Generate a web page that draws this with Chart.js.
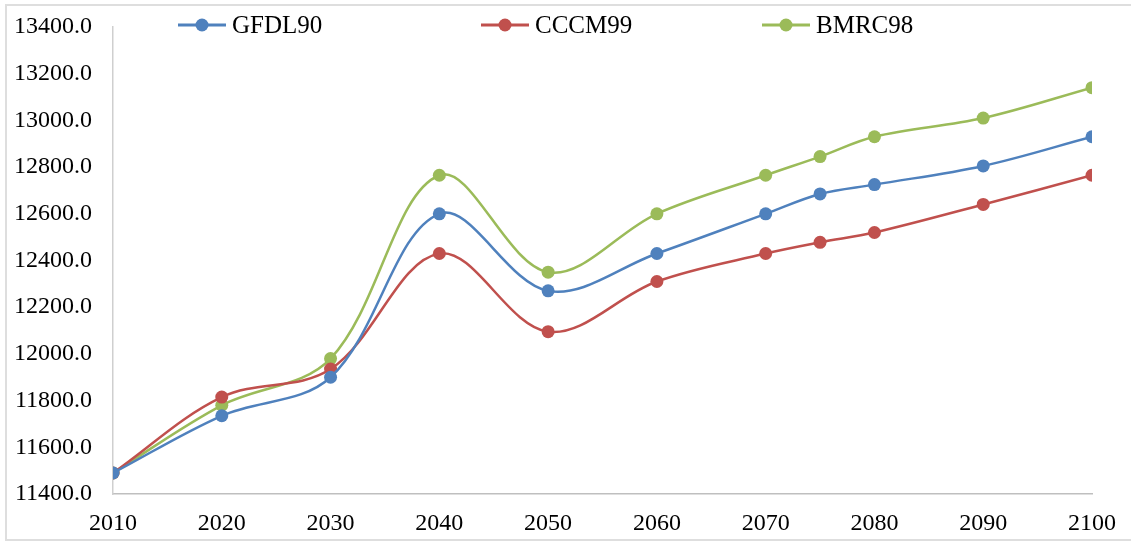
<!DOCTYPE html>
<html>
<head>
<meta charset="utf-8">
<script src="https://cdn.jsdelivr.net/npm/chart.js@4.4.1/dist/chart.umd.min.js"></script>
<style>
  body { margin: 0; background: #fff; }
  canvas { display: block; }
</style>
</head>
<body>
<canvas id="grafico" width="1131" height="542"></canvas>
<script>
// data
const years = [2010, 2020, 2030, 2040, 2050, 2060, 2070, 2075, 2080, 2090, 2100];
const gfdl90 = [11490, 11735, 11900, 12600, 12270, 12430, 12600, 12685, 12725, 12805, 12930];
const cccm99 = [11490, 11815, 11935, 12430, 12095, 12310, 12430, 12478, 12520, 12640, 12765];
const bmrc98 = [11490, 11780, 11980, 12765, 12350, 12600, 12765, 12845, 12930, 13010, 13140];

const seriesNames = ['GFDL90', 'CCCM99', 'BMRC98'];
const seriesColors = ['#4F81BD', '#C0504D', '#9BBB59'];

const fontFamily = '"Liberation Serif", "Times New Roman", serif';

function toPoints(values) {
    return years.map((y, i) => ({ x: y, y: values[i] }));
}

// legend drawn like the Excel one: line with a dot, then the name
const excelLegend = {
    id: 'excelLegend',
    afterDraw(chart) {
        const ctx = chart.ctx;
        const starts = [178, 481, 762];
        ctx.save();
        chart.data.datasets.forEach((ds, i) => {
            const x0 = starts[i];
            const y0 = 25;
            ctx.strokeStyle = ds.borderColor;
            ctx.lineWidth = 3;
            ctx.beginPath();
            ctx.moveTo(x0, y0);
            ctx.lineTo(x0 + 48, y0);
            ctx.stroke();
            ctx.fillStyle = ds.borderColor;
            ctx.beginPath();
            ctx.arc(x0 + 24, y0, 6.5, 0, Math.PI * 2);
            ctx.fill();
            ctx.fillStyle = '#000';
            ctx.font = '25px ' + fontFamily;
            ctx.textBaseline = 'middle';
            ctx.textAlign = 'left';
            ctx.fillText(ds.label, x0 + 54, y0 + 1);
        });
        ctx.restore();
    }
};

// light grey frame round the whole picture
const frame = {
    id: 'frame',
    beforeDraw(chart) {
        const ctx = chart.ctx;
        ctx.save();
        ctx.strokeStyle = '#dedede';
        ctx.lineWidth = 2;
        ctx.strokeRect(6, 5, 1130, 535);
        ctx.restore();
    }
};

const ctx = document.getElementById('grafico').getContext('2d');

new Chart(ctx, {
    type: 'line',
    data: {
        datasets: [gfdl90, cccm99, bmrc98].map((vals, i) => ({
            label: seriesNames[i],
            data: toPoints(vals),
            borderColor: seriesColors[i],
            backgroundColor: seriesColors[i],
            borderWidth: 2.5,
            tension: 0.35,
            pointRadius: 6.5,
            pointHoverRadius: 6.5,
            pointBorderWidth: 0,
            fill: false
        }))
    },
    options: {
        responsive: false,
        animation: false,
        layout: { padding: { left: 0, right: 39, top: 27, bottom: 0 } },
        plugins: {
            legend: { display: false },
            tooltip: { enabled: false }
        },
        scales: {
            x: {
                type: 'linear',
                min: 2010,
                max: 2100,
                grid: { display: false, drawTicks: false },
                border: { display: true, color: '#bfbfbf', width: 1.5 },
                ticks: {
                    stepSize: 10,
                    padding: 15,
                    color: '#000',
                    font: { family: fontFamily, size: 24 },
                    callback: v => String(v)
                },
                afterFit(scale) {
                    scale.height = 48;
                    scale.paddingLeft = 0;
                    scale.paddingRight = 0;
                }
            },
            y: {
                min: 11400,
                max: 13400,
                grid: { display: false, drawTicks: false },
                border: { display: true, color: '#cfcfcf', width: 1.5 },
                ticks: {
                    stepSize: 200,
                    padding: 21,
                    color: '#000',
                    font: { family: fontFamily, size: 24 },
                    callback: v => v.toFixed(1)
                },
                afterFit(scale) {
                    scale.width = 113;
                    scale.paddingTop = 0;
                    scale.paddingBottom = 0;
                }
            }
        }
    },
    plugins: [frame, excelLegend]
});
</script>
</body>
</html>
